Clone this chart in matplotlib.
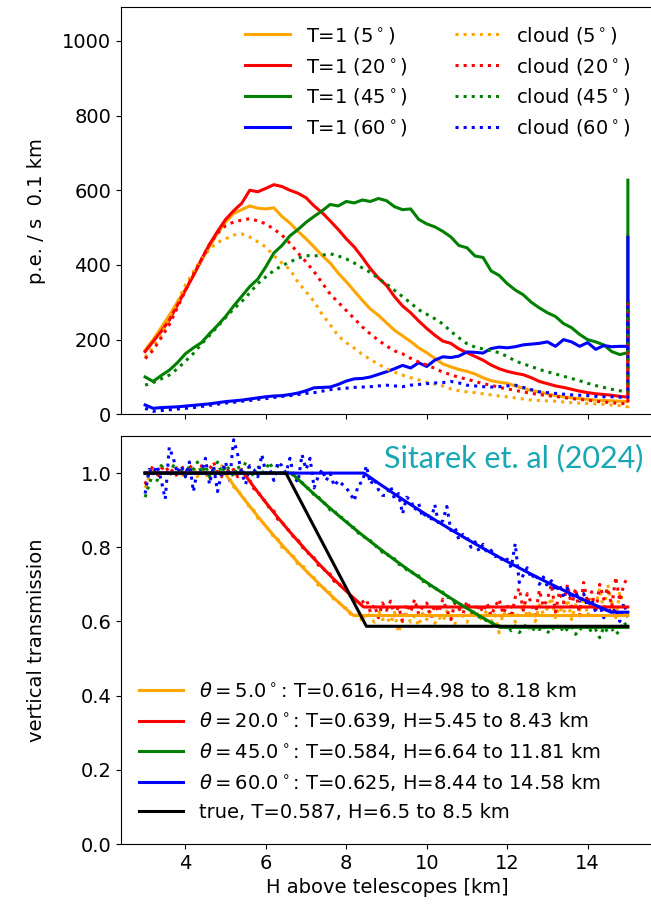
import numpy as np
import matplotlib
matplotlib.use("Agg")
import matplotlib.pyplot as plt

# ---------------- data ----------------
angles = [5, 20, 45, 60]
colors = ["orange", "red", "green", "blue"]

# top panel: p.e./s per 0.1 km, sampled every 0.2 km from 3.0 to 15.0 km
h_top = np.round(np.arange(3.0, 15.01, 0.2), 1)

clear_5 = [172, 200, 232, 265, 300, 335, 372, 412, 450, 485, 515, 538, 548, 558, 552, 550, 553, 530, 512, 490,
           470, 448, 425, 405, 378, 355, 330, 305, 282, 265, 245, 225, 210, 195, 178, 165, 150, 135, 127, 120,
           115, 108, 98, 90, 86, 83, 76, 70, 64, 60, 55, 50, 47, 44, 42, 40, 38, 37, 36, 35, 34]
clear_20 = [168, 195, 222, 252, 292, 332, 372, 415, 455, 490, 522, 545, 565, 600, 596, 605, 615, 610, 600, 592,
            580, 558, 540, 518, 495, 470, 448, 420, 390, 365, 345, 315, 290, 272, 250, 230, 212, 196, 190, 175,
            165, 155, 145, 132, 122, 115, 110, 106, 98, 88, 82, 76, 72, 67, 62, 58, 55, 53, 51, 48, 46]
clear_45 = [100, 88, 104, 118, 138, 162, 178, 192, 216, 238, 262, 290, 316, 342, 362, 395, 432, 452, 478, 495,
            514, 530, 545, 562, 558, 570, 566, 574, 570, 578, 572, 556, 548, 550, 522, 510, 502, 490, 475, 452,
            446, 424, 420, 384, 372, 350, 333, 320, 300, 285, 272, 262, 243, 232, 214, 200, 194, 186, 168, 160, 165]
clear_60 = [25, 16, 18, 19, 20, 22, 24, 26, 28, 31, 34, 36, 38, 41, 44, 47, 49, 50, 53, 57,
            63, 71, 72, 73, 80, 89, 95, 96, 100, 107, 114, 122, 131, 124, 138, 128, 145, 154, 152, 156,
            167, 166, 164, 176, 180, 178, 181, 186, 188, 190, 194, 182, 200, 194, 182, 192, 174, 184, 181, 182, 182]

cloud_5 = [153, 180, 212, 258, 300, 346, 382, 416, 442, 460, 470, 480, 483, 475, 462, 448, 425, 405, 388, 354,
           328, 302, 268, 240, 210, 192, 177, 160, 147, 134, 122, 113, 105, 98, 92, 86, 81, 76, 68, 63,
           60, 58, 55, 52, 49, 47, 44, 41, 38, 37, 36, 35, 33, 31, 30, 29, 28, 27, 25, 23, 20]
cloud_20 = [149, 172, 205, 240, 285, 331, 375, 415, 455, 485, 505, 515, 520, 524, 518, 510, 496, 480, 458, 432,
            408, 382, 352, 322, 300, 278, 256, 234, 215, 198, 183, 170, 162, 150, 140, 132, 123, 113, 106, 99,
            94, 88, 82, 78, 72, 68, 64, 60, 56, 53, 50, 48, 45, 42, 40, 38, 35, 33, 31, 29, 28]
cloud_45 = [78, 85, 95, 105, 122, 142, 163, 188, 211, 235, 259, 282, 302, 325, 350, 368, 385, 398, 408, 418,
            425, 424, 426, 430, 424, 416, 405, 392, 380, 364, 349, 332, 315, 298, 280, 268, 256, 242, 222, 205,
            189, 180, 175, 170, 165, 155, 143, 135, 128, 120, 114, 108, 102, 96, 90, 83, 77, 72, 67, 63, 60]
cloud_60 = [16, 8, 10, 12, 14, 16, 18, 21, 24, 27, 30, 32, 35, 37, 40, 42, 45, 48, 50, 53,
            56, 58, 62, 66, 68, 70, 72, 73, 74, 76, 78, 76, 74, 78, 80, 82, 84, 85, 88, 84,
            78, 76, 74, 73, 74, 76, 78, 72, 66, 60, 58, 56, 54, 52, 51, 50, 48, 47, 47, 46, 45]

# overflow value in the last bin (at 15 km)
spike_clear = [280, 305, 627, 474]
spike_cloud = [60, 300, 300, 250]

# bottom panel: measured vertical transmission, every 0.1 km from 3.0 to 15.0 km
h_bot = np.round(np.arange(3.0, 15.01, 0.1), 1)

ratio_5 = [0.96, 0.99, 1.01, 1.00, 1.02, 0.99, 1.01, 1.00, 1.02, 0.99,
           1.01, 1.00, 1.02, 0.99, 1.01, 1.00, 0.98, 1.01, 1.00, 1.02,
           1.00, 0.985, 0.962, 0.958, 0.935, 0.928, 0.905, 0.900, 0.878, 0.873,
           0.852, 0.848, 0.825, 0.822, 0.800, 0.798, 0.778, 0.775, 0.752, 0.751,
           0.742, 0.720, 0.718, 0.698, 0.698, 0.677, 0.678, 0.657, 0.655, 0.638,
           0.636, 0.620, 0.612, 0.620, 0.600, 0.625, 0.610, 0.598, 0.630, 0.605,
           0.612, 0.595, 0.625, 0.570, 0.608, 0.620, 0.598, 0.615, 0.588, 0.622,
           0.605, 0.630, 0.595, 0.612, 0.600, 0.628, 0.610, 0.592, 0.635, 0.615,
           0.598, 0.620, 0.640, 0.605, 0.612, 0.632, 0.600, 0.618, 0.569, 0.625,
           0.610, 0.640, 0.598, 0.625, 0.650, 0.612, 0.630, 0.600, 0.645, 0.620,
           0.635, 0.665, 0.610, 0.640, 0.620, 0.660, 0.605, 0.645, 0.630, 0.675,
           0.615, 0.660, 0.640, 0.690, 0.625, 0.700, 0.650, 0.610, 0.680, 0.640,
           0.620]
ratio_20 = [0.97, 1.00, 1.02, 0.99, 1.01, 1.02, 1.00, 1.01, 0.99, 1.02,
            1.00, 1.02, 1.01, 0.99, 1.02, 1.00, 1.01, 1.03, 1.00, 0.99,
            1.02, 1.00, 1.01, 0.99, 1.01, 0.995, 0.982, 0.958, 0.953, 0.930,
            0.925, 0.902, 0.898, 0.875, 0.870, 0.850, 0.845, 0.825, 0.820, 0.800,
            0.795, 0.776, 0.772, 0.752, 0.750, 0.730, 0.728, 0.708, 0.706, 0.688,
            0.685, 0.668, 0.664, 0.648, 0.652, 0.660, 0.625, 0.645, 0.610, 0.650,
            0.630, 0.655, 0.615, 0.640, 0.600, 0.648, 0.625, 0.660, 0.620, 0.640,
            0.650, 0.610, 0.645, 0.625, 0.660, 0.630, 0.605, 0.650, 0.635, 0.620,
            0.655, 0.630, 0.610, 0.645, 0.625, 0.650, 0.615, 0.640, 0.660, 0.620,
            0.645, 0.610, 0.665, 0.690, 0.630, 0.675, 0.650, 0.615, 0.685, 0.640,
            0.660, 0.700, 0.625, 0.680, 0.650, 0.700, 0.640, 0.690, 0.615, 0.705,
            0.650, 0.680, 0.625, 0.700, 0.660, 0.690, 0.640, 0.720, 0.655, 0.700,
            0.720]
ratio_45 = [0.935, 0.97, 1.00, 0.98, 1.02, 1.01, 0.99, 1.02, 1.00, 1.01,
            0.99, 1.02, 1.01, 1.03, 1.00, 1.02, 0.99, 1.01, 1.03, 1.00,
            1.02, 1.01, 0.99, 1.02, 1.00, 1.03, 1.01, 0.99, 1.02, 1.00,
            1.01, 1.03, 1.00, 1.02, 0.99, 1.01, 0.99, 1.00, 0.978, 0.975,
            0.960, 0.958, 0.940, 0.938, 0.920, 0.918, 0.900, 0.900, 0.882, 0.880,
            0.872, 0.855, 0.853, 0.838, 0.836, 0.820, 0.818, 0.803, 0.802, 0.786,
            0.785, 0.770, 0.769, 0.754, 0.753, 0.739, 0.738, 0.723, 0.723, 0.708,
            0.708, 0.693, 0.693, 0.679, 0.679, 0.665, 0.665, 0.651, 0.652, 0.638,
            0.638, 0.625, 0.625, 0.612, 0.612, 0.599, 0.600, 0.587, 0.588, 0.580,
            0.590, 0.575, 0.588, 0.570, 0.582, 0.595, 0.572, 0.585, 0.578, 0.590,
            0.568, 0.585, 0.575, 0.592, 0.570, 0.580, 0.588, 0.565, 0.582, 0.575,
            0.590, 0.570, 0.578, 0.556, 0.585, 0.572, 0.580, 0.565, 0.575, 0.600,
            0.580]
ratio_60 = [0.945, 1.01, 1.00, 1.02, 0.98, 0.93, 1.07, 1.04, 1.00, 1.02,
            0.99, 1.03, 0.95, 1.01, 1.00, 1.04, 0.97, 1.02, 0.95, 1.00,
            1.03, 0.98, 1.09, 1.05, 1.00, 0.97, 1.02, 1.01, 0.99, 1.05,
            1.00, 1.01, 0.98, 1.03, 1.02, 1.00, 1.04, 0.99, 0.975, 1.05,
            1.01, 1.04, 0.96, 0.99, 1.01, 0.98, 1.00, 0.965, 0.98, 0.97,
            0.96, 0.945, 0.925, 0.97, 0.975, 1.02, 0.97, 0.985, 0.955, 0.94,
            0.940, 0.965, 0.930, 0.945, 0.890, 0.935, 0.928, 0.900, 0.918, 0.880,
            0.895, 0.870, 0.915, 0.860, 0.872, 0.910, 0.845, 0.855, 0.820, 0.835,
            0.828, 0.800, 0.815, 0.790, 0.808, 0.785, 0.792, 0.775, 0.780, 0.760,
            0.768, 0.745, 0.810, 0.705, 0.725, 0.745, 0.715, 0.730, 0.700, 0.720,
            0.695, 0.710, 0.680, 0.700, 0.670, 0.690, 0.660, 0.680, 0.655, 0.675,
            0.640, 0.660, 0.625, 0.645, 0.610, 0.640, 0.620, 0.635, 0.600, 0.650,
            0.610]

# fitted cloud parameters: transmission, base and top height [km]
fit_T = [0.616, 0.639, 0.584, 0.625]
fit_H1 = [4.98, 5.45, 6.64, 8.44]
fit_H2 = [8.18, 8.43, 11.81, 14.58]
true_T, true_H1, true_H2 = 0.587, 6.5, 8.5

clear_all = [clear_5, clear_20, clear_45, clear_60]
cloud_all = [cloud_5, cloud_20, cloud_45, cloud_60]
ratio_all = [ratio_5, ratio_20, ratio_45, ratio_60]

# ---------------- plotting ----------------
plt.rcParams["font.family"] = ["DejaVu Sans"]
plt.rcParams["font.size"] = 14

W, H = 651, 905
fig = plt.figure(figsize=(W / 100, H / 100), dpi=100)
left = 121 / W
width = (654 - 121) / W
ax1 = fig.add_axes([left, 1 - 414.3 / H, width, (414.3 - 7.3) / H])
ax2 = fig.add_axes([left, 1 - 844 / H, width, (844 - 436) / H])
ax_w = 654 - 121

x_top = np.append(h_top, 15.0)
for a, c, cl, sc in zip(angles, colors, clear_all, spike_clear):
    ax1.plot(x_top, list(cl) + [sc], color=c, lw=2.2, label=f"T=1 ({a}$^\\circ$)")
for a, c, cd, sd in zip(angles, colors, cloud_all, spike_cloud):
    ax1.plot(x_top, list(cd) + [sd], color=c, lw=2.2, ls=":", label=f"cloud ({a}$^\\circ$)")

ax1.set_xlim(2.4, 15.6 + 2 / 40.2)
ax1.set_ylim(0, 1090)
ax1.set_yticks([0, 200, 400, 600, 800, 1000])
ax1.set_xticks([4, 6, 8, 10, 12, 14])
ax1.tick_params(labelbottom=False)
ax1.set_ylabel("p.e. / s  0.1 km")
ax1.yaxis.set_label_coords((46 - 121) / ax_w, 0.5)
ax1.legend(ncol=2, loc="upper right", frameon=False, handlelength=2.3,
           columnspacing=2.45, labelspacing=0.5,
           bbox_to_anchor=(1 - 7 / ax_w, 1))


def transmission(h, T, h1, h2):
    f = np.clip((h - h1) / (h2 - h1), 0, 1)
    return T ** f


h_fine = np.linspace(3.0, 15.0, 601)
for c, r in zip(colors, ratio_all):
    ax2.plot(h_bot, r, color=c, lw=2.2, ls=":")
for a, c, T, h1, h2 in zip(angles, colors, fit_T, fit_H1, fit_H2):
    ax2.plot(h_fine, transmission(h_fine, T, h1, h2), color=c, lw=2.2,
             label=f"$\\theta={a:.1f}^\\circ$: T={T:.3f}, H={h1:.2f} to {h2:.2f} km")
h_true = [3.0, true_H1, true_H2, 15.0]
ax2.plot(h_true, [1.0, 1.0, true_T, true_T], color="black", lw=2.2,
         label=f"true, T={true_T}, H={true_H1} to {true_H2} km")

ax2.set_xlim(2.4, 15.6 + 2 / 40.2)
ax2.set_ylim(0, 1.1)
ax2.set_xticks([4, 6, 8, 10, 12, 14])
ax2.set_yticks([0.0, 0.2, 0.4, 0.6, 0.8, 1.0])
ax2.set_xlabel("H above telescopes [km]")
ax2.set_ylabel("vertical transmission")
ax2.yaxis.set_label_coords((46 - 121) / ax_w, 0.5)
ax2.legend(loc="lower left", frameon=False, handlelength=2.3, labelspacing=0.5,
           bbox_to_anchor=(0, 5 / 408))

fig.text(643 / W, 1 - 467 / H, "Sitarek et. al (2024)", color="#1aa7b5",
         fontsize=22, family=["Lato", "DejaVu Sans"], ha="right", va="baseline")

fig.savefig("out.png", dpi=100)
